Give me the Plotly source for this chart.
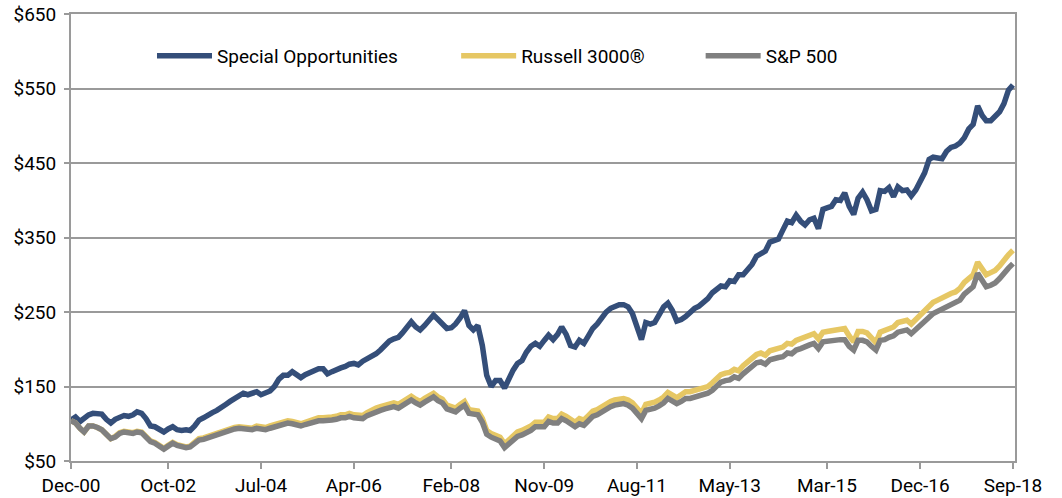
import pandas as pd
import plotly.graph_objects as go

special_opportunities = [
    105, 109, 103, 108, 112, 114, 114, 113, 106, 101,
    106, 109, 111, 110, 112, 116, 114, 107, 97, 96,
    93, 89, 93, 96, 92, 91, 92, 91, 97, 105,
    108, 112, 115, 118, 121, 126, 130, 134, 139, 141,
    139, 141, 143, 139, 142, 144, 150, 160, 165, 165,
    170, 166, 162, 166, 169, 171, 174, 174, 167, 170,
    173, 175, 177, 180, 181, 179, 184, 187, 190, 194,
    199, 206, 211, 214, 216, 222, 230, 237, 230, 226,
    232, 238, 246, 240, 234, 228, 229, 234, 242, 252,
    232, 226, 232, 205, 165, 150, 158, 158, 148, 160,
    172, 181, 185, 196, 204, 208, 204, 212, 219, 213,
    220, 230, 220, 205, 203, 212, 208, 218, 228, 234,
    242, 250, 255, 257, 260, 260, 257, 248, 232, 213,
    236, 234, 236, 246, 257, 262, 252, 238, 240, 244,
    250, 255, 258, 262, 268, 276, 280, 285, 284, 292,
    291, 300, 300, 306, 314, 325, 329, 332, 344, 346,
    348, 360, 372, 370, 380, 372, 367, 374, 376, 362,
    388, 390, 392, 401, 400, 410, 392, 381, 403, 411,
    401, 386, 388, 413, 412, 417, 405, 418, 413, 414,
    406, 414, 425, 437, 455, 458, 457, 456, 466, 471,
    473, 477, 484, 496, 502, 527, 514, 507, 507, 512,
    519, 530, 548, 555,
]

russell_3000 = [
    104, 101, 94, 89, 97, 97, 95, 92, 86, 80,
    83, 88, 90, 89, 88, 90, 89, 83, 77, 75,
    72, 67, 71, 75, 72, 70, 69, 70, 76, 80,
    81, 83, 85, 87, 89, 92, 94, 95, 96, 95,
    94, 94, 97, 96, 95, 97, 99, 101, 103, 104,
    103, 101, 100, 102, 104, 105, 108, 108, 108, 109,
    110, 112, 112, 114, 112, 111, 111, 115, 119, 121,
    123, 125, 127, 128, 126, 129, 133, 137, 133, 130,
    134, 138, 141, 136, 133, 125, 122, 121, 126, 130,
    119, 118, 117, 107, 91, 87, 85, 82, 73, 78,
    84, 89, 91, 93, 97, 102, 102, 102, 109, 107,
    107, 113, 110, 106, 102, 107, 105, 111, 117, 119,
    123, 126, 130, 132, 134, 134, 132, 128, 121, 114,
    126, 127, 129, 132, 136, 142, 138, 135, 139, 143,
    143, 145, 146, 148, 150, 155, 160, 166, 168, 169,
    173, 171, 178, 183, 188, 193, 195, 192, 198, 200,
    201, 203, 208, 207, 212, 214, 217, 219, 221, 214,
    223, 224, 225, 226, 227, 228, 218, 210, 224, 224,
    222, 215, 209, 223, 225, 228, 230, 236, 237, 239,
    234, 240, 246, 252, 258, 263, 266, 269, 273, 275,
    277, 282, 290, 295, 300, 317, 308, 300, 303, 306,
    312, 320, 327, 333,
]

sp_500 = [
    104, 101, 94, 89, 97, 97, 95, 92, 86, 80,
    82, 87, 89, 88, 87, 89, 88, 82, 76, 74,
    71, 66, 70, 74, 71, 69, 68, 69, 74, 78,
    79, 81, 83, 85, 87, 90, 92, 93, 94, 93,
    92, 92, 94, 93, 92, 94, 96, 98, 100, 101,
    100, 98, 97, 99, 101, 102, 104, 104, 104, 105,
    106, 108, 108, 110, 108, 107, 107, 111, 114, 116,
    118, 120, 122, 123, 121, 124, 128, 132, 128, 125,
    129, 133, 136, 131, 128, 120, 117, 116, 121, 125,
    114, 113, 112, 102, 86, 82, 80, 77, 68, 73,
    78, 83, 85, 87, 91, 96, 96, 96, 103, 101,
    101, 107, 104, 100, 96, 100, 98, 104, 110, 112,
    116, 119, 123, 125, 127, 127, 125, 121, 114, 107,
    118, 119, 121, 124, 128, 134, 130, 127, 130, 134,
    134, 136, 137, 139, 141, 145, 150, 156, 158, 159,
    163, 161, 167, 172, 177, 182, 183, 180, 186, 188,
    189, 190, 195, 194, 199, 201, 204, 206, 208, 201,
    210, 211, 211, 212, 213, 213, 204, 199, 212, 212,
    210, 204, 199, 212, 213, 216, 218, 223, 224, 226,
    221, 226, 232, 237, 243, 248, 251, 254, 257, 259,
    261, 266, 274, 279, 284, 302, 292, 284, 286, 289,
    295, 303, 309, 315,
]

months = pd.date_range("2000-12-01", periods=len(special_opportunities), freq="MS")

tick_dates = ["2000-12-01", "2002-10-01", "2004-07-01", "2006-04-01", "2008-02-01",
              "2009-11-01", "2011-08-01", "2013-05-01", "2015-03-01", "2016-12-01",
              "2018-09-01"]
tick_labels = ["Dec-00", "Oct-02", "Jul-04", "Apr-06", "Feb-08", "Nov-09",
               "Aug-11", "May-13", "Mar-15", "Dec-16", "Sep-18"]
y_ticks = [50, 150, 250, 350, 450, 550, 650]
y_labels = ["$50", "$150", "$250", "$350", "$450", "$550", "$650"]

series_names = ["Special Opportunities", "Russell 3000®", "S&P 500"]
colors = ["#344E79", "#E6C764", "#808080"]

fig = go.Figure()
for name, vals, col, lg in zip(series_names, [special_opportunities, russell_3000, sp_500],
                               colors, ["legend", "legend2", "legend3"]):
    fig.add_trace(go.Scatter(x=months, y=vals, mode="lines", name=name,
                             line=dict(color=col, width=5.5), legend=lg))

grid = "#9A9A9A"
font = dict(family="Roboto", size=19, color="#000000")
leg_common = dict(orientation="h", yanchor="middle", xanchor="left",
                  bgcolor="rgba(0,0,0,0)", font=font, itemwidth=55)

fig.update_layout(
    width=1062, height=498,
    margin=dict(l=71, r=47, t=14, b=37, autoexpand=False),
    plot_bgcolor="white", paper_bgcolor="white",
    font=font,
    showlegend=True,
    legend=dict(x=0.0858, y=0.906, **leg_common),
    legend2=dict(x=0.408, y=0.906, **leg_common),
    legend3=dict(x=0.667, y=0.906, **leg_common),
    xaxis=dict(type="date", range=["2000-12-01", "2018-09-15"],
               tickvals=tick_dates, ticktext=tick_labels,
               showgrid=False, showline=True, linecolor=grid, linewidth=2,
               mirror=True,
               ticks="outside", ticklen=6, tickwidth=2, tickcolor=grid,
               zeroline=False),
    yaxis=dict(range=[50, 650.3], tickvals=y_ticks, ticktext=y_labels,
               showgrid=True, gridcolor=grid, gridwidth=2,
               showline=True, linecolor=grid, linewidth=2, mirror=True,
               ticks="outside", ticklen=5, tickwidth=2, tickcolor=grid,
               ticklabelstandoff=4,
               zeroline=False),
)

# remove the default 8px page margin so the figure sits at the window's corner
fig.write_html("out.html",
               config={"displayModeBar": False},
               post_script="document.body.style.margin='0';document.body.style.overflow='hidden';")
